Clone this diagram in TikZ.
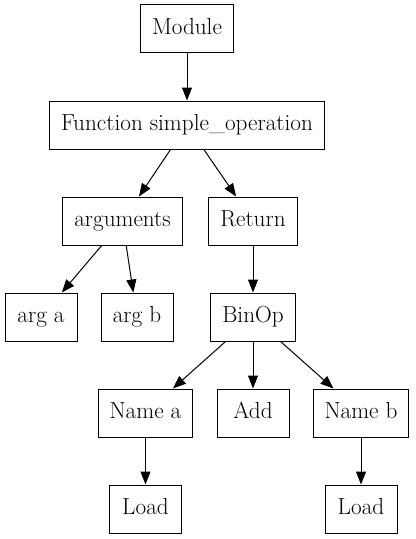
\documentclass[tikz,border=0pt]{standalone}
\usetikzlibrary{arrows.meta}
\begin{document}
\begin{tikzpicture}[x=0.75pt, y=-0.75pt, >={Triangle[length=9.75pt,width=7.5pt]},
		font=\fontsize{17.4}{20}\selectfont,
		box/.style={draw, line width=0.75pt, minimum width=54pt, minimum height=36pt, inner xsep=8.6pt,
			text height=12pt, text depth=3.5pt},
		edge/.style={->, line width=0.75pt}]
		\useasboundingbox (0,0) rectangle (415,539);
		\node[box] (module) at (187,28.5) {Module};
		\node[box] (func) at (187,125) {Function simple\_operation};
		\node[box] (args) at (122.5,221) {arguments};
		\node[box] (ret) at (253,221) {Return};
		\node[box] (arga) at (41,317) {arg a};
		\node[box] (argb) at (137,317) {arg b};
		\node[box] (binop) at (253,317) {BinOp};
		\node[box] (namea) at (145.5,413) {Name a};
		\node[box] (add) at (253,413) {Add};
		\node[box] (nameb) at (361,413) {Name b};
		\node[box] (loada) at (145.5,509) {Load};
		\node[box] (loadb) at (361,509) {Load};
		\draw[edge] (module) -- (func);
		\draw[edge] (func) -- (args);
		\draw[edge] (func) -- (ret);
		\draw[edge] (args) -- (arga);
		\draw[edge] (args) -- (argb);
		\draw[edge] (ret) -- (binop);
		\draw[edge] (binop) -- (namea);
		\draw[edge] (binop) -- (add);
		\draw[edge] (binop) -- (nameb);
		\draw[edge] (namea) -- (loada);
		\draw[edge] (nameb) -- (loadb);
	\end{tikzpicture}
\end{document}
